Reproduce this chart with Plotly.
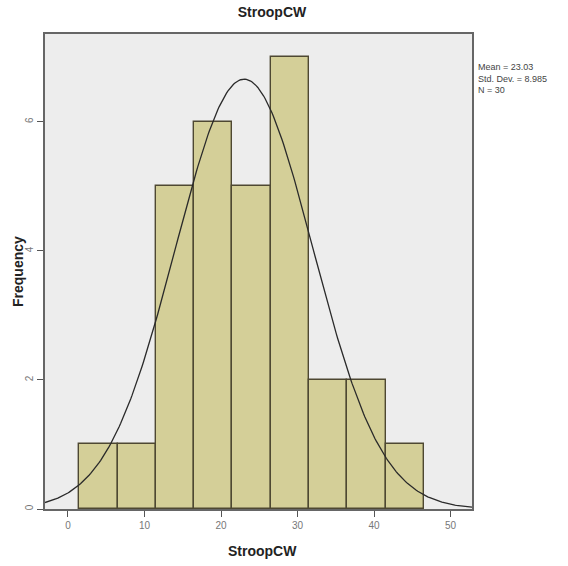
import numpy as np
import plotly.graph_objects as go

# Histogram of StroopCW scores (bin width 5)
bin_centers = [4, 9, 14, 19, 24, 29, 34, 39, 44]
frequencies = [1, 1, 5, 6, 5, 7, 2, 2, 1]
bin_width = 5

# Summary statistics
mean_val = 23.03
std_dev = 8.985
n_obs = 30

x_ticks = [0, 10, 20, 30, 40, 50]
y_ticks = [0, 2, 4, 6]

x_range = [-3.0, 52.8]
y_range = [0, 7.36]

# Fitted normal curve, scaled to counts
xs = np.linspace(x_range[0], x_range[1], 300)
ys = n_obs * bin_width / (std_dev * np.sqrt(2 * np.pi)) * np.exp(-0.5 * ((xs - mean_val) / std_dev) ** 2)

fig = go.Figure()
fig.add_trace(go.Bar(
    x=bin_centers, y=frequencies, width=bin_width,
    marker=dict(color="#d4cf98", line=dict(color="#4e4832", width=1.4)),
    hoverinfo="x+y",
))
fig.add_trace(go.Scatter(
    x=xs, y=ys, mode="lines",
    line=dict(color="#2a2a2a", width=1.3),
    hoverinfo="skip",
))

L, R, T, B = 45, 472, 34, 509
W, H = 568, 566

fig.update_layout(
    width=W, height=H,
    margin=dict(l=L, r=W - R, t=T, b=H - B),
    paper_bgcolor="white",
    plot_bgcolor="#ededed",
    showlegend=False,
    bargap=0,
    font=dict(family="Liberation Sans, Arial, sans-serif", color="#333"),
    title=dict(text="<b>StroopCW</b>", x=272 / W, xanchor="center",
               y=1 - 12 / H, yanchor="middle", font=dict(size=14, color="#222")),
)
fig.update_xaxes(
    range=x_range, tickvals=x_ticks, ticks="outside", ticklen=6, tickcolor="#555",
    tickfont=dict(size=10, color="#777"), showgrid=False, zeroline=False,
    showline=True, linecolor="#666", linewidth=1.5, mirror=True, automargin=False,
)
fig.update_yaxes(
    range=y_range, tickvals=y_ticks, ticks="outside", ticklen=6, tickcolor="#555",
    tickangle=-90,
    tickfont=dict(size=10, color="#777"), showgrid=False, zeroline=False,
    showline=True, linecolor="#666", linewidth=1.5, mirror=True, automargin=False,
)

# Axis titles
fig.add_annotation(
    xref="paper", yref="paper", x=(262 - L) / (R - L), y=-(551 - B) / (B - T),
    xanchor="center", yanchor="middle", showarrow=False,
    text="<b>StroopCW</b>", font=dict(size=14, color="#222"),
)
fig.add_annotation(
    xref="paper", yref="paper", x=-(L - 18) / (R - L), y=(B - 272) / (B - T),
    xanchor="center", yanchor="middle", showarrow=False, textangle=-90,
    text="<b>Frequency</b>", font=dict(size=14, color="#222"),
)

fig.add_annotation(
    xref="paper", yref="paper", x=1.0, y=1 - (60 - T) / (B - T),
    xanchor="left", yanchor="top", xshift=4, showarrow=False, align="left",
    text=f"Mean = {mean_val:.2f}<br>Std. Dev. = {std_dev:.3f}<br>N = {n_obs}",
    font=dict(size=9, color="#444"),
)

fig.write_html("out.html")
